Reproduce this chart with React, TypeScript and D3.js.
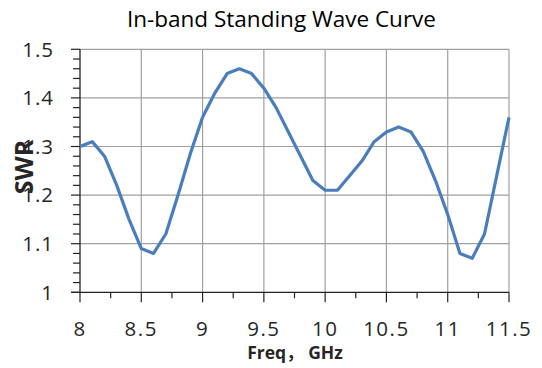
import React from "react";
import * as d3 from "d3";

const freqs = [8.0, 8.1, 8.2, 8.3, 8.4, 8.5, 8.6, 8.7, 8.8, 8.9, 9.0, 9.1, 9.2, 9.3, 9.4, 9.5, 9.6, 9.7, 9.8, 9.9, 10.0, 10.1, 10.2, 10.3, 10.4, 10.5, 10.6, 10.7, 10.8, 10.9, 11.0, 11.1, 11.2, 11.3, 11.4, 11.5];
const swr = [1.3, 1.31, 1.28, 1.22, 1.15, 1.09, 1.08, 1.12, 1.2, 1.285, 1.36, 1.41, 1.45, 1.46, 1.45, 1.42, 1.38, 1.33, 1.28, 1.23, 1.21, 1.21, 1.24, 1.27, 1.31, 1.33, 1.34, 1.33, 1.29, 1.23, 1.16, 1.08, 1.07, 1.12, 1.24, 1.36];
const xTicks = [8, 8.5, 9, 9.5, 10, 10.5, 11, 11.5];
const yTicks = [1, 1.1, 1.2, 1.3, 1.4, 1.5];
const title = "In-band Standing Wave Curve";
const xLabel = "Freq， GHz";
const yLabel = "SWR";

export default function App() {
  const W = 542, H = 368;
  const left = 80, right = 509, top = 49.3, bottom = 292.3;
  const x = d3.scaleLinear().domain([8, 11.5]).range([left, right]);
  const y = d3.scaleLinear().domain([1, 1.5]).range([bottom, top]);
  const line = d3.line<number>().x((_, i) => x(freqs[i])).y((d) => y(d));
  const xMinor = d3.range(8, 11.5001, 0.25);
  const yMinor = d3.range(1, 1.5001, 0.02);
  const font = "'Open Sans', 'Noto Sans', sans-serif";
  const cjk = "'Open Sans', 'Noto Sans CJK SC', sans-serif";
  return (
    <svg width={W} height={H} style={{ position: "absolute", left: 0, top: 0, background: "#fff" }}>
      <text x={281.5} y={27.3} textAnchor="middle" fontFamily={font} fontSize={22.5} fill="#000">{title}</text>
      {xTicks.slice(1).map((t) => (
        <line key={"gx" + t} x1={x(t)} x2={x(t)} y1={top} y2={bottom} stroke="#a0a0a0" strokeWidth={1.2} />
      ))}
      {yTicks.slice(1).map((t) => (
        <line key={"gy" + t} x1={left} x2={right} y1={y(t)} y2={y(t)} stroke="#a0a0a0" strokeWidth={1.2} />
      ))}
      {xMinor.map((t, i) => (
        <line key={"tx" + i} x1={x(t)} x2={x(t)} y1={bottom} y2={bottom + (i % 2 === 0 ? 10 : 6)} stroke="#222" strokeWidth={1.2} />
      ))}
      {yMinor.map((t, i) => (
        <line key={"ty" + i} x1={left - (i % 5 === 0 ? 9 : 7)} x2={left} y1={y(t)} y2={y(t)} stroke="#222" strokeWidth={1.2} />
      ))}
      <line x1={left} x2={left} y1={top} y2={bottom} stroke="#222" strokeWidth={1.3} />
      <line x1={left - 9} x2={right} y1={bottom} y2={bottom} stroke="#222" strokeWidth={1.3} />
      <path d={line(swr) || ""} fill="none" stroke="#4a7ebb" strokeWidth={3.2} strokeLinejoin="round" />
      {yTicks.map((t) => (
        <text key={"ly" + t} x={54} y={y(t)} dy="0.36em" textAnchor="end" fontFamily={font} fontSize={20.5} letterSpacing={1} fill="#262626">{t === 1 ? "1" : t.toFixed(1)}</text>
      ))}
      {xTicks.map((t) => (
        <text key={"lx" + t} x={x(t)} y={335.5} textAnchor="middle" fontFamily={font} fontSize={20.5} letterSpacing={1.5} fill="#262626">{String(t)}</text>
      ))}
      <text x={295} y={359} textAnchor="middle" fontFamily={cjk} fontSize={17.5} fontWeight="bold" fill="#262626">{xLabel}</text>
      <text transform="translate(33,167) rotate(-90)" textAnchor="middle" fontFamily={font} fontSize={25} fontWeight="bold" fill="#262626">{yLabel}</text>
    </svg>
  );
}
